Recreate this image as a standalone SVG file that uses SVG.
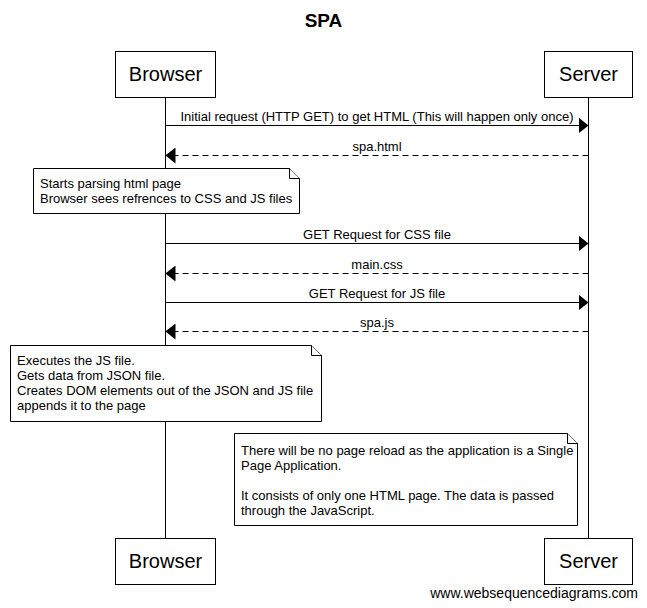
<svg xmlns="http://www.w3.org/2000/svg" width="647" height="608" viewBox="0 0 647 608">
<style>
text{font-family:"Liberation Sans",Arial,sans-serif;fill:#000}
.actor rect{fill:#fff;stroke:#000;stroke-width:1}
.actor text{font-size:20px;text-anchor:middle}
.life{stroke:#000;stroke-width:1}
.msg{stroke:#000;stroke-width:1;fill:none}
.dash{stroke-dasharray:6,4}
.lbl{font-size:13px;text-anchor:middle}
.note path{fill:#fff;stroke:#000;stroke-width:1}
.note text{font-size:13px}
</style>
<defs>
<marker id="ah" markerWidth="10" markerHeight="16" refX="10" refY="8" orient="auto" markerUnits="userSpaceOnUse">
<path d="M0,0 L10,8 L0,16 Z" fill="#000"/>
</marker>
</defs>
<rect width="647" height="608" fill="#fff"/>
<text x="323.5" y="27" font-size="19" font-weight="bold" text-anchor="middle">SPA</text>

<g id="lifelines">
<line class="life" x1="165.5" y1="97" x2="165.5" y2="538"/>
<line class="life" x1="588.5" y1="97" x2="588.5" y2="538"/>
</g>

<g id="browser" class="actor">
<rect x="115.5" y="51.5" width="100" height="46"/>
<text x="165.5" y="81">Browser</text>
<rect x="115.5" y="538.5" width="100" height="46"/>
<text x="165.5" y="568">Browser</text>
</g>
<g id="server" class="actor">
<rect x="544.5" y="51.5" width="88" height="46"/>
<text x="588.5" y="81">Server</text>
<rect x="544.5" y="538.5" width="88" height="46"/>
<text x="588.5" y="568">Server</text>
</g>

<g id="connectors">
<line class="msg" x1="165.5" y1="125.5" x2="588.5" y2="125.5" marker-end="url(#ah)"/>
<text class="lbl" x="377" y="121">Initial request (HTTP GET) to get HTML (This will happen only once)</text>
<line class="msg dash" x1="588.5" y1="155.5" x2="165.5" y2="155.5" marker-end="url(#ah)"/>
<text class="lbl" x="377" y="151">spa.html</text>
<line class="msg" x1="165.5" y1="243.5" x2="588.5" y2="243.5" marker-end="url(#ah)"/>
<text class="lbl" x="377" y="239">GET Request for CSS file</text>
<line class="msg dash" x1="588.5" y1="273.5" x2="165.5" y2="273.5" marker-end="url(#ah)"/>
<text class="lbl" x="377" y="269">main.css</text>
<line class="msg" x1="165.5" y1="302.5" x2="588.5" y2="302.5" marker-end="url(#ah)"/>
<text class="lbl" x="377" y="298">GET Request for JS file</text>
<line class="msg dash" x1="588.5" y1="331.5" x2="165.5" y2="331.5" marker-end="url(#ah)"/>
<text class="lbl" x="377" y="327">spa.js</text>
</g>

<g id="note1" class="note">
<path d="M33.5,168.5 H289.5 L299.5,178.5 V213.5 H33.5 Z"/>
<path d="M289.5,168.5 V178.5 H299.5"/>
<text x="40" y="188">Starts parsing html page</text>
<text x="40" y="203">Browser sees refrences to CSS and JS files</text>
</g>

<g id="note2" class="note">
<path d="M10.5,345.5 H311.5 L321.5,355.5 V421.5 H10.5 Z"/>
<path d="M311.5,345.5 V355.5 H321.5"/>
<text x="17" y="365">Executes the JS file.</text>
<text x="17" y="380">Gets data from JSON file.</text>
<text x="17" y="395">Creates DOM elements out of the JSON and JS file</text>
<text x="17" y="410">appends it to the page</text>
</g>

<g id="note3" class="note">
<path d="M234.5,433.5 H567.5 L577.5,443.5 V525.5 H234.5 Z"/>
<path d="M567.5,433.5 V443.5 H577.5"/>
<text x="241" y="455">There will be no page reload as the application is a Single</text>
<text x="241" y="470">Page Application.</text>
<text x="241" y="500">It consists of only one HTML page. The data is passed</text>
<text x="241" y="515">through the JavaScript.</text>
</g>

<text x="638" y="598" font-size="14" text-anchor="end">www.websequencediagrams.com</text>
</svg>
